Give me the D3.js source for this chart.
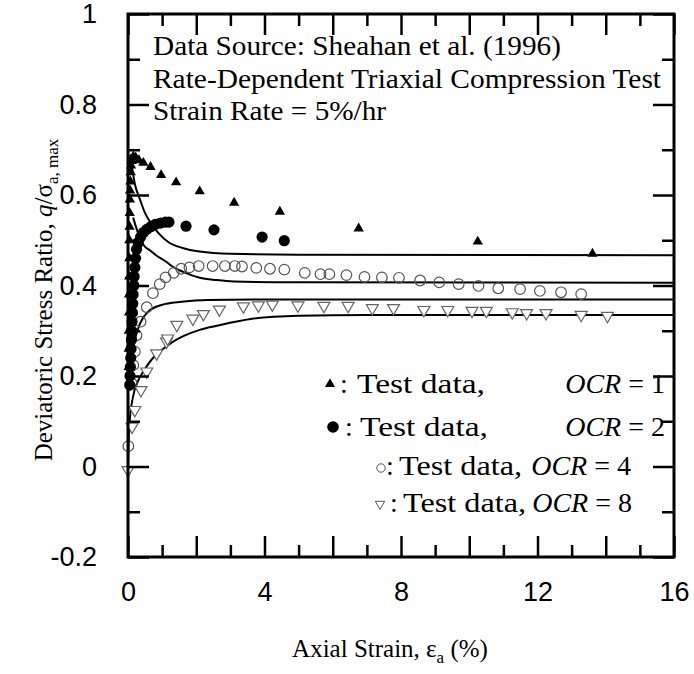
<!DOCTYPE html>
<html>
<head>
<meta charset="utf-8">
<script src="https://cdn.jsdelivr.net/npm/d3@7"></script>
<style>
  body { margin: 0; background: #fff; }
  .tick-label { font-family: "Liberation Sans", Arial, sans-serif; font-size: 27px; fill: #000; }
  .serif { font-family: "Liberation Serif", "Times New Roman", serif; fill: #000; }
</style>
</head>
<body>
<div id="chart"></div>
<script>
// axis ticks
const xMajorTicks = [0, 2, 4, 6, 8, 10, 12, 14, 16];
const xMinorTicks = [1, 3, 5, 7, 9, 11, 13, 15];
const xTickLabels = [0, 4, 8, 12, 16];
const yMajorTicks = [-0.2, 0, 0.2, 0.4, 0.6, 0.8, 1];
const yMinorTicks = [-0.1, 0.1, 0.3, 0.5, 0.7, 0.9];

// test data, OCR = 1 (filled triangles)
const ocr1Strain = [0.02, 0.02, 0.025, 0.03, 0.03, 0.035, 0.04, 0.04, 0.045, 0.05, 0.055, 0.06, 0.07, 0.08, 0.09, 0.11,
  0.155, 0.225, 0.32, 0.45, 0.66, 0.97, 1.41, 2.10, 3.11, 4.45, 6.76, 10.25, 13.61];
const ocr1Ratio = [0.22, 0.26, 0.30, 0.34, 0.38, 0.42, 0.46, 0.50, 0.53, 0.56, 0.59, 0.61, 0.63, 0.65, 0.665, 0.675,
  0.685, 0.683, 0.677, 0.671, 0.662, 0.644, 0.628, 0.608, 0.583, 0.563, 0.526, 0.497, 0.470];

// test data, OCR = 2 (filled circles)
const ocr2Strain = [0.05, 0.06, 0.07, 0.08, 0.09, 0.10, 0.11, 0.12, 0.13, 0.14, 0.15, 0.17, 0.18, 0.20, 0.22, 0.25,
  0.30, 0.37, 0.45, 0.55, 0.67, 0.80, 0.95, 1.10, 1.20, 1.70, 2.52, 3.93, 4.58];
const ocr2Ratio = [0.18, 0.20, 0.22, 0.24, 0.26, 0.28, 0.30, 0.32, 0.34, 0.36, 0.38, 0.40, 0.42, 0.44, 0.46, 0.48,
  0.495, 0.507, 0.517, 0.524, 0.530, 0.535, 0.538, 0.540, 0.540, 0.531, 0.523, 0.507, 0.499];

// test data, OCR = 4 (open circles)
const ocr4Strain = [0.01, 0.11, 0.155, 0.20, 0.25, 0.37, 0.55, 0.73, 0.93, 1.10, 1.34, 1.56, 1.80, 2.07, 2.48, 2.84,
  3.13, 3.34, 3.76, 4.16, 4.58, 5.18, 5.64, 5.90, 6.40, 6.93, 7.44, 7.94, 8.56, 9.12, 9.69, 10.27, 10.85, 11.49,
  12.07, 12.69, 13.28];
const ocr4Ratio = [0.045, 0.184, 0.224, 0.254, 0.29, 0.32, 0.352, 0.383, 0.403, 0.418, 0.428, 0.437, 0.44, 0.443,
  0.443, 0.443, 0.443, 0.442, 0.439, 0.437, 0.435, 0.428, 0.425, 0.425, 0.423, 0.419, 0.418, 0.417, 0.411, 0.407,
  0.403, 0.399, 0.394, 0.392, 0.388, 0.385, 0.381];

// test data, OCR = 8 (open down triangles)
const ocr8Strain = [0, 0.12, 0.20, 0.38, 0.55, 0.84, 1.13, 1.16, 1.43, 1.90, 2.21, 2.68, 3.38, 3.82, 4.23, 4.98,
  5.74, 6.45, 7.16, 7.78, 8.67, 9.37, 10.08, 10.50, 11.26, 11.68, 12.25, 13.28, 14.05];
const ocr8Ratio = [-0.008, 0.088, 0.125, 0.169, 0.21, 0.25, 0.276, 0.283, 0.313, 0.327, 0.337, 0.347, 0.354, 0.356,
  0.358, 0.356, 0.355, 0.355, 0.350, 0.350, 0.346, 0.346, 0.344, 0.344, 0.341, 0.339, 0.339, 0.335, 0.333];

// model curves
const model1Strain = [0.06, 0.08, 0.12, 0.2, 0.35, 0.5, 0.7, 0.9, 1.2, 1.6, 2.1, 3, 5, 16];
const model1Ratio = [0.69, 0.68, 0.66, 0.625, 0.59, 0.56, 0.535, 0.515, 0.495, 0.483, 0.475, 0.47, 0.468, 0.467];
const model2Strain = [0.15, 0.3, 0.45, 0.64, 0.8, 1.13, 1.3, 1.62, 2.1, 2.6, 3.1, 5, 16];
const model2Ratio = [0.55, 0.515, 0.49, 0.478, 0.468, 0.452, 0.442, 0.43, 0.417, 0.412, 0.409, 0.407, 0.406];
const model4Strain = [0.05, 0.12, 0.2, 0.35, 0.59, 0.98, 1.57, 2.35, 4, 16];
const model4Ratio = [0.2, 0.25, 0.28, 0.316, 0.342, 0.357, 0.364, 0.368, 0.369, 0.369];
const model8Strain = [0, 0.02, 0.05, 0.15, 0.3, 0.45, 0.7, 1, 1.3, 1.62, 2.1, 2.6, 3.6, 5, 7, 16];
const model8Ratio = [0, 0.06, 0.1, 0.155, 0.19, 0.21, 0.237, 0.258, 0.275, 0.288, 0.302, 0.311, 0.326, 0.333, 0.335, 0.335];

const annotationLines = ['Data Source: Sheahan et al. (1996)', 'Rate-Dependent Triaxial Compression Test', 'Strain Rate = 5%/hr'];
const legendOcr = ['1', '2', '4', '8'];

// chart static params
const width = 694, height = 674;
const margin = {top: 14, right: 20, bottom: 117, left: 128};
const innerW = width - margin.left - margin.right;
const innerH = height - margin.top - margin.bottom;
const serifSize = 28;

const xScale = d3.scaleLinear().domain([0, 16]).range([0, innerW]);
const yScale = d3.scaleLinear().domain([-0.2, 1]).range([innerH, 0]);

const root = d3.select('#chart').append('svg')
    .attr('width', width)
    .attr('height', height);
const svg = root.append('g')
    .attr('transform', `translate(${margin.left},${margin.top})`);

const zip = (xs, ys) => xs.map((x, i) => ({x: x, y: ys[i]}));

// model curves
const line = d3.line().x(d => xScale(d.x)).y(d => yScale(d.y)).curve(d3.curveMonotoneX);
[[model1Strain, model1Ratio], [model2Strain, model2Ratio], [model4Strain, model4Ratio], [model8Strain, model8Ratio]]
  .forEach(([xs, ys]) => {
    svg.append('path')
      .datum(zip(xs, ys))
      .attr('fill', 'none')
      .attr('stroke', '#000')
      .attr('stroke-width', 2)
      .attr('d', line);
  });

// markers
const triUp = d3.symbol().type(d3.symbolTriangle).size(46);
const triDown = d3.symbol().type(d3.symbolTriangle).size(62);

svg.append('g').selectAll('path').data(zip(ocr8Strain, ocr8Ratio)).join('path')
  .attr('d', triDown)
  .attr('transform', d => `translate(${xScale(d.x)},${yScale(d.y)}) rotate(180)`)
  .attr('fill', '#fff').attr('stroke', '#666').attr('stroke-width', 1.2);

svg.append('g').selectAll('circle').data(zip(ocr4Strain, ocr4Ratio)).join('circle')
  .attr('cx', d => xScale(d.x)).attr('cy', d => yScale(d.y)).attr('r', 5.3)
  .attr('fill', 'none').attr('stroke', '#555').attr('stroke-width', 1.2);

svg.append('g').selectAll('circle').data(zip(ocr2Strain, ocr2Ratio)).join('circle')
  .attr('cx', d => xScale(d.x)).attr('cy', d => yScale(d.y)).attr('r', 5.6)
  .attr('fill', '#000');

svg.append('g').selectAll('path').data(zip(ocr1Strain, ocr1Ratio)).join('path')
  .attr('d', triUp)
  .attr('transform', d => `translate(${xScale(d.x)},${yScale(d.y)})`)
  .attr('fill', '#000');

// axes: ticks inward on all four sides
function drawTicks(axisFn, scale, values, size, labels, padding, transform) {
  const g = svg.append('g').attr('transform', transform || null)
    .call(axisFn(scale).tickValues(values).tickSizeInner(-size).tickSizeOuter(0).tickPadding(padding)
      .tickFormat(labels ? (d => labels.includes(d) ? (d === 0 ? '0' : String(+d.toFixed(1))) : '') : () => ''));
  g.select('.domain').remove();
  g.selectAll('.tick line').attr('stroke', '#000').attr('stroke-width', 2.5);
  g.selectAll('.tick text').attr('class', 'tick-label').attr('font-family', null).attr('font-size', null);
  return g;
}
drawTicks(d3.axisBottom, xScale, xMajorTicks, 21, xTickLabels, 25, `translate(0,${innerH})`);
drawTicks(d3.axisBottom, xScale, xMinorTicks, 12, null, 0, `translate(0,${innerH})`);
drawTicks(d3.axisTop, xScale, xMajorTicks, 21, null, 0);
drawTicks(d3.axisTop, xScale, xMinorTicks, 12, null, 0);
drawTicks(d3.axisLeft, yScale, yMajorTicks, 21, yMajorTicks, 31);
drawTicks(d3.axisLeft, yScale, yMinorTicks, 12, null, 0);
drawTicks(d3.axisRight, yScale, yMajorTicks, 21, null, 0, `translate(${innerW},0)`);
drawTicks(d3.axisRight, yScale, yMinorTicks, 12, null, 0, `translate(${innerW},0)`);

// frame
svg.append('rect')
  .attr('width', innerW).attr('height', innerH)
  .attr('fill', 'none').attr('stroke', '#000').attr('stroke-width', 3);

// annotation
svg.append('g').selectAll('text').data(annotationLines).join('text')
  .attr('class', 'serif')
  .attr('font-size', serifSize)
  .attr('x', 25)
  .attr('y', (d, i) => 41 + i * 32.5)
  .attr('textLength', (d, i) => [408, 508, 233][i])
  .attr('lengthAdjust', 'spacingAndGlyphs')
  .text(d => d);

// legend: marker, ": Test data," and "OCR = n" per row
const legendRows = [
  {base: 393, mx: 330, colon: 340, test: 357, testLen: 128, end: 665},
  {base: 436, mx: 333, colon: 345, test: 360, testLen: 128, end: 665},
  {base: 475, mx: 381, colon: 386, test: 399, testLen: 123, end: 631},
  {base: 512, mx: 380, colon: 390, test: 403, testLen: 123, end: 632}
];
const legend = root.append('g');
legendRows.forEach((r, i) => {
  const txt = (x) => legend.append('text').attr('class', 'serif').attr('font-size', serifSize)
    .attr('x', x).attr('y', r.base);
  txt(r.colon).text(':');
  txt(r.test).attr('textLength', r.testLen).attr('lengthAdjust', 'spacingAndGlyphs').text('Test data,');
  const t = txt(r.end).attr('text-anchor', 'end');
  t.append('tspan').attr('font-style', 'italic').text('OCR');
  t.append('tspan').text(' = ' + legendOcr[i]);
  const cy = r.base - 9;
  if (i === 0) {
    legend.append('path').attr('d', d3.symbol().type(d3.symbolTriangle).size(44)())
      .attr('transform', `translate(${r.mx},${cy})`).attr('fill', '#000');
  } else if (i === 1) {
    legend.append('circle').attr('cx', r.mx).attr('cy', cy).attr('r', 5.8).attr('fill', '#000');
  } else if (i === 2) {
    legend.append('circle').attr('cx', r.mx).attr('cy', cy + 2).attr('r', 4.2)
      .attr('fill', 'none').attr('stroke', '#555').attr('stroke-width', 1);
  } else {
    legend.append('path').attr('d', d3.symbol().type(d3.symbolTriangle).size(38)())
      .attr('transform', `translate(${r.mx},${cy + 1}) rotate(180)`)
      .attr('fill', 'none').attr('stroke', '#555').attr('stroke-width', 1);
  }
});

// axis titles
const xTitle = root.append('text').attr('class', 'serif').attr('font-size', 25)
  .attr('x', 390).attr('y', 657).attr('text-anchor', 'middle');
xTitle.append('tspan').text('Axial Strain, \u03b5');
xTitle.append('tspan').attr('font-size', 17).attr('dy', 6).text('a');
xTitle.append('tspan').attr('dy', -6).text(' (%)');

const yTitle = root.append('text').attr('class', 'serif').attr('font-size', 25)
  .attr('text-anchor', 'middle')
  .attr('transform', 'translate(52,300) rotate(-90)');
yTitle.append('tspan').text('Deviatoric Stress Ratio, ');
yTitle.append('tspan').attr('font-style', 'italic').text('q');
yTitle.append('tspan').text('/\u03c3');
yTitle.append('tspan').attr('font-size', 17).attr('dy', 6).text('a, max');
</script>
</body>
</html>
